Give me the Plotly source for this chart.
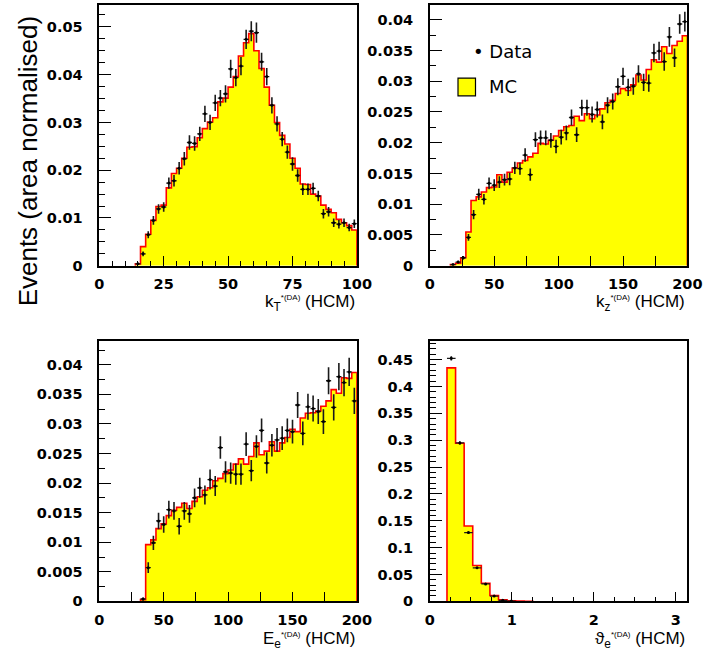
import numpy as np
import plotly.graph_objects as go

# ---------------- k_T* (HCM): 50 bins of width 2 on [0, 100] ----------------
kt_edges = np.arange(0, 101, 2)
kt_mc = [0, 0, 0, 0, 0, 0, 0, 0.0004, 0.0040, 0.0066, 0.0095, 0.0124, 0.0127, 0.0163,
         0.0193, 0.0204, 0.0225, 0.0248, 0.0249, 0.0268, 0.0287, 0.0301, 0.0310, 0.0343,
         0.0351, 0.0374, 0.0396, 0.0439, 0.0467, 0.0486, 0.0450, 0.0413, 0.0374, 0.0336,
         0.0300, 0.0273, 0.0255, 0.0225, 0.0204, 0.0171, 0.0170, 0.0150, 0.0146, 0.0127,
         0.0118, 0.0111, 0.0097, 0.0090, 0.0084, 0.0075]
kt_x = list(range(15, 100, 2))
kt_data = [0.0004, 0.0025, 0.0065, 0.0095, 0.0119, 0.0123, 0.0173, 0.0178, 0.0204, 0.0224,
           0.0258, 0.0256, 0.0276, 0.0318, 0.0300, 0.0341, 0.0351, 0.0360, 0.0412, 0.0394,
           0.0418, 0.0474, 0.0491, 0.0488, 0.0427, 0.0396, 0.0336, 0.0297, 0.0265, 0.0238,
           0.0213, 0.0189, 0.0160, 0.0160, 0.0162, 0.0146, 0.0109, 0.0113, 0.0090, 0.0087,
           0.0090, 0.0080, 0.0088]
kt_err = [0.0002, 0.0005, 0.00075, 0.0009, 0.0010, 0.0010, 0.0012, 0.0012, 0.0013, 0.0014,
          0.0015, 0.0015, 0.0015, 0.0017, 0.0016, 0.0017, 0.0017, 0.0018, 0.0019, 0.0018,
          0.0019, 0.0020, 0.0021, 0.0021, 0.0019, 0.0018, 0.0017, 0.0016, 0.0015, 0.0014,
          0.0014, 0.0013, 0.0012, 0.0012, 0.0012, 0.0011, 0.0010, 0.0010, 0.0009, 0.0009,
          0.0009, 0.0008, 0.0009]

# ---------------- k_z* (HCM): 50 bins of width 4 on [0, 200] ----------------
kz_edges = np.arange(0, 201, 4)
kz_mc = [0, 0, 0, 0, 0.0002, 0.0004, 0.0013, 0.0055, 0.0106, 0.0112, 0.0120, 0.0127,
         0.0128, 0.0148, 0.0136, 0.0152, 0.0159, 0.0167, 0.0171, 0.0177, 0.0183, 0.0199,
         0.0198, 0.0204, 0.0211, 0.0220, 0.0226, 0.0228, 0.0243, 0.0236, 0.0247, 0.0239,
         0.0245, 0.0255, 0.0265, 0.0269, 0.0280, 0.0288, 0.0285, 0.0294, 0.0310, 0.0302,
         0.0319, 0.0335, 0.0331, 0.0356, 0.0345, 0.0358, 0.0365, 0.0374]
kz_x = list(range(18, 200, 4))
kz_data = [0.0002, 0.0006, 0.0013, 0.0046, 0.0083, 0.0116, 0.0108, 0.0134, 0.0131, 0.0136,
           0.0140, 0.0141, 0.0159, 0.0158, 0.0180, 0.0148, 0.0205, 0.0208, 0.0208, 0.0204,
           0.0194, 0.0209, 0.0216, 0.0241, 0.0213, 0.0257, 0.0257, 0.0246, 0.0254, 0.0234,
           0.0261, 0.0267, 0.0291, 0.0308, 0.0290, 0.0292, 0.0312, 0.0298, 0.0297, 0.0346,
           0.0349, 0.0332, 0.0372, 0.0338, 0.0393, 0.0397]
kz_err = [0.0001, 0.0002, 0.0003, 0.00055, 0.00075, 0.0009, 0.00085, 0.00095, 0.00095, 0.00095,
          0.00095, 0.0010, 0.0010, 0.0010, 0.0011, 0.0010, 0.0012, 0.0012, 0.0012, 0.0012,
          0.0011, 0.0012, 0.0012, 0.0013, 0.0012, 0.0013, 0.0013, 0.0013, 0.0013, 0.0012,
          0.0013, 0.0013, 0.0014, 0.0014, 0.0014, 0.0014, 0.0014, 0.0014, 0.0014, 0.0015,
          0.0015, 0.0015, 0.0016, 0.0015, 0.0016, 0.0016]

# ---------------- E_e* (HCM): 50 bins of width 4 on [0, 200] ----------------
ee_edges = np.arange(0, 201, 4)
ee_mc = [0, 0, 0, 0, 0, 0, 0, 0, 0.0003, 0.0096, 0.0104, 0.0123, 0.0131, 0.0145, 0.0154,
         0.0159, 0.0166, 0.0157, 0.0169, 0.0177, 0.0188, 0.0192, 0.0204, 0.0208, 0.0216,
         0.0222, 0.0232, 0.0241, 0.0232, 0.0245, 0.0268, 0.0248, 0.0254, 0.0270, 0.0254,
         0.0268, 0.0277, 0.0291, 0.0287, 0.0310, 0.0318, 0.0319, 0.0322, 0.0330, 0.0339,
         0.0358, 0.0352, 0.0378, 0.0377, 0.0387]
ee_x = list(range(34, 200, 4))
ee_data = [0.0004, 0.0057, 0.0099, 0.0136, 0.0130, 0.0155, 0.0153, 0.0127, 0.0153, 0.0148,
           0.0175, 0.0192, 0.0180, 0.0206, 0.0195, 0.0260, 0.0219, 0.0217, 0.0215, 0.0215,
           0.0266, 0.0221, 0.0262, 0.0289, 0.0234, 0.0264, 0.0273, 0.0276, 0.0289, 0.0287,
           0.0332, 0.0284, 0.0329, 0.0326, 0.0321, 0.0304, 0.0373, 0.0328, 0.0380, 0.0370,
           0.0388, 0.0339]
ee_err = [0.00024, 0.0009, 0.0012, 0.0014, 0.0014, 0.0015, 0.0015, 0.0014, 0.0015, 0.0015,
          0.0016, 0.0017, 0.0016, 0.0017, 0.0017, 0.0019, 0.0018, 0.0018, 0.0018, 0.0018,
          0.0020, 0.0018, 0.0019, 0.0020, 0.0018, 0.0019, 0.0020, 0.0020, 0.0020, 0.0020,
          0.0022, 0.0020, 0.0022, 0.0022, 0.0021, 0.0021, 0.0023, 0.0022, 0.0023, 0.0023,
          0.0024, 0.0022]

# ---------------- theta_e* (HCM): 30 bins of width pi/30 on [0, pi] ----------------
th_edges = np.linspace(0, np.pi, 31)
th_mc = [0, 0, 0.4347, 0.2943, 0.1404, 0.0668, 0.0337, 0.0110, 0.0030, 0.0012, 0.0006,
         0.0002, 0, 0, 0, 0, 0, 0, 0, 0, 0, 0, 0, 0, 0, 0, 0, 0, 0, 0]
th_bins = [2, 3, 4, 5, 6, 7, 8, 9]
th_data = [0.4525, 0.2949, 0.1280, 0.0625, 0.0325, 0.0098, 0.0020, 0.0006]
th_err = [0.0040, 0.0030, 0.0020, 0.0015, 0.0010, 0.0006, 0.0003, 0.0002]

panels = [
    dict(edges=kt_edges, mc=kt_mc, x=kt_x, data=kt_data, err=kt_err),
    dict(edges=kz_edges, mc=kz_mc, x=kz_x, data=kz_data, err=kz_err),
    dict(edges=ee_edges, mc=ee_mc, x=ee_x, data=ee_data, err=ee_err),
    dict(edges=th_edges, mc=th_mc,
         x=[0.5 * (th_edges[i] + th_edges[i + 1]) for i in th_bins],
         data=th_data, err=th_err),
]


def step_outline(edges, counts):
    """Closed step outline of a histogram, restricted to its populated bins."""
    nz = [i for i, c in enumerate(counts) if c > 0]
    lo, hi = nz[0], nz[-1]
    xs = [edges[lo]]
    ys = [0]
    for i in range(lo, hi + 1):
        xs += [edges[i], edges[i + 1]]
        ys += [counts[i], counts[i]]
    xs.append(edges[hi + 1])
    ys.append(0)
    return xs, ys


fig = go.Figure()
for i, p in enumerate(panels):
    sfx = "" if i == 0 else str(i + 1)
    edges = [float(e) for e in p["edges"]]
    half = 0.5 * (edges[1] - edges[0])
    xs, ys = step_outline(edges, p["mc"])
    # MC histogram as a filled step outline
    fig.add_trace(go.Scatter(
        x=xs, y=ys, mode="lines", line=dict(color="#ff0000", width=1.6),
        fill="tozeroy", fillcolor="#ffff00",
        xaxis="x" + sfx, yaxis="y" + sfx, showlegend=False, hoverinfo="skip"))
    # Data points with statistical errors
    fig.add_trace(go.Scatter(
        x=p["x"], y=p["data"], mode="markers",
        marker=dict(color="black", size=3),
        error_x=dict(type="constant", value=half, color="#1a1a1a", thickness=1.3, width=0),
        error_y=dict(type="data", array=p["err"], color="#1a1a1a", thickness=1.6, width=0),
        xaxis="x" + sfx, yaxis="y" + sfx, showlegend=False))

tickfont = dict(family="DejaVu Sans", size=14.5, color="black", weight="bold")
xdom = [[97 / 717, 362 / 717], [437 / 717, 702 / 717]]
ydom = [[1 - 269 / 664, 1 - 5 / 664], [1 - 608.7 / 664, 1 - 344.7 / 664]]


def xax(dom, anchor, rng, dtick, minor_dtick, minor_len):
    return dict(domain=dom, anchor=anchor, range=rng, dtick=dtick, tick0=0,
                ticks="inside", ticklen=10, tickwidth=1.3, tickcolor="black",
                minor=dict(dtick=minor_dtick, tick0=0, ticks="inside", ticklen=minor_len,
                           tickwidth=1.1, tickcolor="black"),
                showline=True, linecolor="black", linewidth=1.5, mirror=True,
                showgrid=False, zeroline=False, tickfont=tickfont, ticklabelstandoff=4)


def yax(dom, anchor, rng, dtick, minor_dtick):
    return dict(domain=dom, anchor=anchor, range=rng, dtick=dtick, tick0=0,
                ticks="inside", ticklen=12, tickwidth=1.3, tickcolor="black",
                minor=dict(dtick=minor_dtick, tick0=0, ticks="inside", ticklen=6,
                           tickwidth=1.1, tickcolor="black"),
                showline=True, linecolor="black", linewidth=1.5, mirror=True,
                showgrid=False, zeroline=False, tickfont=tickfont, ticklabelstandoff=12)


fig.update_layout(
    width=717, height=664, margin=dict(l=0, r=0, t=0, b=0),
    paper_bgcolor="white", plot_bgcolor="white",
    xaxis=xax(xdom[0], "y", [0, 100], 25, 5, 5),
    yaxis=yax(ydom[0], "x", [0, 0.0546], 0.01, 0.0025),
    xaxis2=xax(xdom[1], "y2", [0, 200], 50, 25, 10),
    yaxis2=yax(ydom[0], "x2", [0, 0.0424], 0.005, 0.0025),
    xaxis3=xax(xdom[0], "y3", [0, 200], 50, 25, 10),
    yaxis3=yax(ydom[1], "x3", [0, 0.0441], 0.005, 0.0025),
    xaxis4=xax(xdom[1], "y4", [0, np.pi], 1, 0.25, 5),
    yaxis4=yax(ydom[1], "x4", [0, 0.4855], 0.05, 0.01),
)

sup = '<sup><span style="font-size:8px">*(DA)</span></sup>'
titles = [
    ("k<sub>T</sub>" + sup + " (HCM)", 362, 307),
    ("k<sub>z</sub>" + sup + " (HCM)", 702, 307),
    ("E<sub>e</sub>" + sup + " (HCM)", 362, 648),
    ("\u03d1<sub>e</sub>" + sup + " (HCM)", 702, 648),
]
for text, px, py in titles:
    fig.add_annotation(text=text, x=px / 717, y=1 - py / 664, xref="paper", yref="paper",
                       xanchor="right", yanchor="middle", showarrow=False,
                       font=dict(family="Liberation Sans", size=17, color="black"))

fig.add_annotation(text="Events (area normalised)", x=24 / 717, y=1 - 163 / 664,
                   xref="paper", yref="paper", textangle=-90, showarrow=False,
                   xanchor="center", yanchor="middle",
                   font=dict(family="Liberation Sans", size=26, color="black"))

# Legend inside the k_z panel
fig.add_annotation(text="\u2022 Data", x=479 / 717, y=1 - 52 / 664, xref="paper", yref="paper",
                   xanchor="left", yanchor="middle", showarrow=False,
                   font=dict(family="DejaVu Sans", size=18, color="black"))
fig.add_shape(type="rect", x0=466 / 717, x1=484 / 717, y0=1 - 97 / 664, y1=1 - 79 / 664,
              xref="paper", yref="paper", fillcolor="#ffff00",
              line=dict(color="black", width=1.2))
fig.add_annotation(text="MC", x=496 / 717, y=1 - 88 / 664, xref="paper", yref="paper",
                   xanchor="left", yanchor="middle", showarrow=False,
                   font=dict(family="DejaVu Sans", size=18, color="black"))

fig.write_html("out.html")
